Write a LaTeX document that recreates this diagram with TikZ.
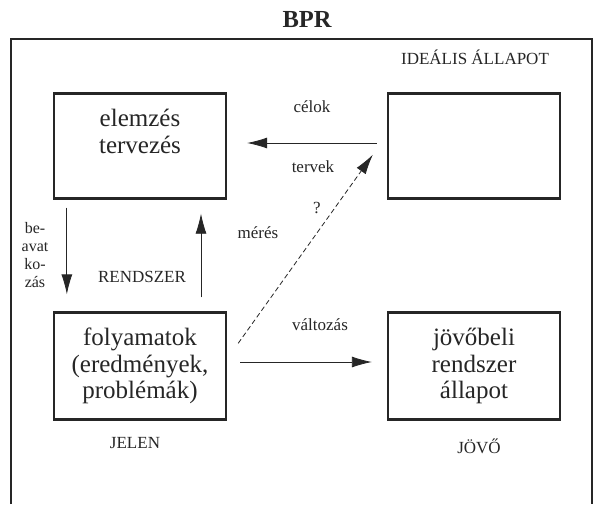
\documentclass[tikz,border=0pt]{standalone}
\usepackage{fontspec}
\setmainfont{Liberation Serif}
\usetikzlibrary{arrows.meta}
\definecolor{ink}{RGB}{38,38,38}
\tikzset{
  box/.style={draw=ink, line width=2.3pt, minimum width=172pt, inner sep=0pt, align=center, text=ink, font=\fontsize{25}{26.5}\selectfont},
  big/.style={text=ink, align=center, font=\fontsize{25}{26.5}\selectfont, inner sep=0pt},
  lbl/.style={text=ink, inner sep=0pt, font=\fontsize{17}{18}\selectfont},
  arr/.style={draw=ink, line width=0.8pt, -{Latex[length=20pt,width=11pt]}},
  dasharr/.style={arr, dash pattern=on 5pt off 3pt}
}
\begin{document}
\begin{tikzpicture}[x=1pt,y=-1pt]
\useasboundingbox[fill=white] (0,0) rectangle (594,504);
% outer frame (open at the bottom)
\draw[ink, line width=2pt] (11,504) -- (11,38.5) -- (592,38.5) -- (592,504);
\node[text=ink, inner sep=0pt, font=\bfseries\fontsize{24.5}{26}\selectfont] (title) at (307,20) {BPR};
\node[lbl] (ideal) at (475,57) {IDEÁLIS ÁLLAPOT};
% boxes
\node[box, minimum height=105pt] (A) at (140,146) {};
\node[big] (Atext) at (140,131.5) {elemzés\\tervezés};
\node[box, minimum height=105pt] (B) at (474,146) {};
\node[box, minimum height=107pt] (C) at (140,366) {folyamatok\\(eredmények,\\problémák)};
\node[box, minimum height=107pt] (D) at (474,366) {jövőbeli\\rendszer\\állapot};
% labels
\node[lbl] (celok) at (312,107) {célok};
\node[lbl] (tervek) at (313,167) {tervek};
\node[lbl] (q) at (317,208) {?};
\node[lbl] (meres) at (258,233) {mérés};
\node[lbl] (valt) at (320,325) {változás};
\node[lbl] (rendszer) at (142,277) {RENDSZER};
\node[text=ink, inner sep=0pt, align=center, font=\fontsize{16}{18}\selectfont] (beav) at (35,255) {be-\\avat\\ko-\\zás};
\node[lbl] (jelen) at (135,443) {JELEN};
\node[lbl] (jovo) at (479,446) {JÖVŐ};
% connectors
\draw[arr] ([xshift=-10pt,yshift=3pt]B.west) -- ([xshift=20pt,yshift=3pt]A.east);
\draw[dasharr] ([xshift=11pt,yshift=-32pt]C.north east) -- ([xshift=-14pt,yshift=45pt]B.south west);
\draw[arr] ([xshift=13pt,yshift=4pt]C.east) -- ([xshift=-15pt,yshift=4pt]D.west);
\draw[arr] ([xshift=61pt,yshift=14pt]C.north) -- ([xshift=61pt,yshift=-14pt]A.south);
\draw[arr] ([xshift=14pt,yshift=-8pt]A.south west) -- ([xshift=14pt,yshift=17pt]C.north west);
\end{tikzpicture}
\end{document}
